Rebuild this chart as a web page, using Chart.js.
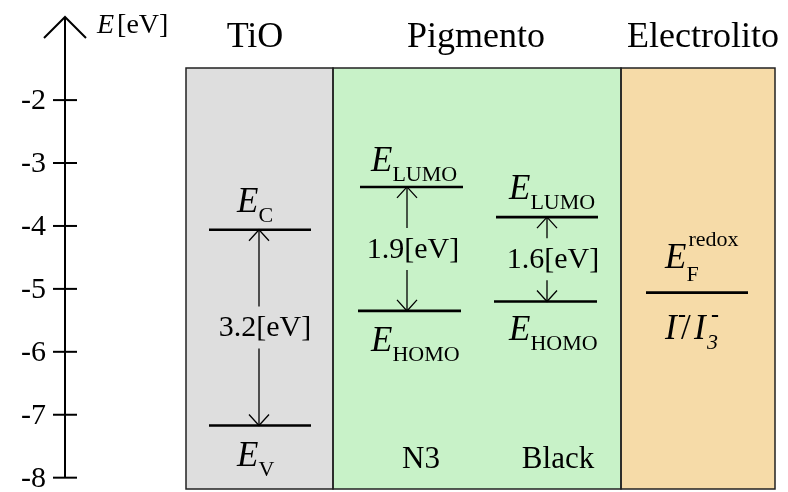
<!DOCTYPE html>
<html>
<head>
<meta charset="utf-8">
<script src="https://cdn.jsdelivr.net/npm/chart.js@4.4.1/dist/chart.umd.min.js"></script>
<style>
html, body { margin: 0; padding: 0; background: #fff; }
#wrap { width: 788px; height: 492px; }
</style>
</head>
<body>
<div id="wrap"><canvas id="myChart" width="788" height="492"></canvas></div>
<script>
"use strict";

// values
var columns     = ['TiO', 'Pigmento', 'Electrolito'];
var yTicks      = [-2, -3, -4, -5, -6, -7, -8];
var tioLevels   = [-4.06, -7.17];   // E_C, E_V
var n3Levels    = [-3.38, -5.35];   // LUMO, HOMO
var blackLevels = [-3.86, -5.20];   // LUMO, HOMO
var redoxLevels = [-5.06];
var gapLabels   = ['3.2[eV]', '1.9[eV]', '1.6[eV]'];
var dyeNames    = ['N3', 'Black'];

// layout (x in pixels from the left edge of the boxes)
var FONT      = '"Liberation Serif"';
var colEdges  = [0, 147, 435, 589];
var colFills  = ['#dedede', '#c8f2c8', '#f6dba8'];
var titleX    = [69, 290, 517];
var axisX     = 65;

function levelSet(x1, x2, y) {
    return {
        data: [{x: x1, y: y}, {x: x2, y: y}],
        borderColor: '#000',
        borderWidth: 2.6,
        pointRadius: 0,
        fill: false
    };
}

var datasets = [
    levelSet(23, 125, tioLevels[0]),
    levelSet(23, 125, tioLevels[1]),
    levelSet(174, 277, n3Levels[0]),
    levelSet(172, 275, n3Levels[1]),
    levelSet(310, 412, blackLevels[0]),
    levelSet(308, 411, blackLevels[1]),
    levelSet(460, 562, redoxLevels[0])
];

// E labels: x, offset from level, subscript
var eLabels = [
    {x: 51,  lvl: tioLevels[0],   dy: -18, sub: 'C'},
    {x: 51,  lvl: tioLevels[1],   dy: 41,  sub: 'V'},
    {x: 185, lvl: n3Levels[0],    dy: -16, sub: 'LUMO'},
    {x: 185, lvl: n3Levels[1],    dy: 40,  sub: 'HOMO'},
    {x: 323, lvl: blackLevels[0], dy: -18, sub: 'LUMO'},
    {x: 323, lvl: blackLevels[1], dy: 39,  sub: 'HOMO'},
    {x: 479, lvl: redoxLevels[0], dy: -25, sub: 'F', sup: 'redox'}
];

// gap arrows: x, top level, bottom level, label
var gaps = [
    {x: 73,  top: tioLevels[0],   bot: tioLevels[1],   text: gapLabels[0]},
    {x: 221, top: n3Levels[0],    bot: n3Levels[1],    text: gapLabels[1]},
    {x: 361, top: blackLevels[0], bot: blackLevels[1], text: gapLabels[2]}
];

function arrowHead(ctx, x, y, dir) {
    ctx.beginPath();
    ctx.moveTo(x - 10, y + dir * 11);
    ctx.lineTo(x, y);
    ctx.lineTo(x + 10, y + dir * 11);
    ctx.stroke();
}

var diagram = {
    id: 'diagram',
    beforeDatasetsDraw: function (chart) {
        var ctx = chart.ctx, xs = chart.scales.x, area = chart.chartArea;
        ctx.save();
        for (var i = 0; i < 3; i++) {
            var x1 = xs.getPixelForValue(colEdges[i]);
            var x2 = xs.getPixelForValue(colEdges[i + 1]);
            ctx.fillStyle = colFills[i];
            ctx.fillRect(x1, area.top, x2 - x1, area.bottom - area.top);
        }
        ctx.strokeStyle = '#222';
        ctx.lineWidth = 1.5;
        for (var j = 0; j < 3; j++) {
            var a = xs.getPixelForValue(colEdges[j]);
            var b = xs.getPixelForValue(colEdges[j + 1]);
            ctx.strokeRect(a, area.top, b - a, area.bottom - area.top);
        }
        ctx.restore();
    },
    afterDatasetsDraw: function (chart) {
        var ctx = chart.ctx, xs = chart.scales.x, ys = chart.scales.y;
        ctx.save();
        ctx.fillStyle = '#000';
        ctx.strokeStyle = '#000';

        // energy axis
        ctx.lineWidth = 2;
        ctx.beginPath();
        ctx.moveTo(axisX, ys.getPixelForValue(-8));
        ctx.lineTo(axisX, 17);
        ctx.stroke();
        ctx.beginPath();
        ctx.moveTo(axisX - 21, 38);
        ctx.lineTo(axisX, 17);
        ctx.lineTo(axisX + 21, 38);
        ctx.stroke();
        ctx.font = '30px ' + FONT;
        ctx.textAlign = 'right';
        ctx.textBaseline = 'middle';
        yTicks.forEach(function (t) {
            var y = ys.getPixelForValue(t);
            ctx.beginPath();
            ctx.moveTo(axisX - 12, y);
            ctx.lineTo(axisX + 12, y);
            ctx.stroke();
            ctx.fillText(String(t), 46, y + 1);
        });

        ctx.textAlign = 'left';
        ctx.textBaseline = 'alphabetic';
        ctx.font = 'italic 28px ' + FONT;
        ctx.fillText('E', 97, 33);
        var ew = ctx.measureText('E').width;
        ctx.font = '28px ' + FONT;
        ctx.fillText('[eV]', 97 + ew + 3, 33);

        // column titles
        ctx.textAlign = 'center';
        ctx.font = '36px ' + FONT;
        columns.forEach(function (c, i) {
            ctx.fillText(c, xs.getPixelForValue(titleX[i]), 47);
        });

        // dye names
        ctx.font = '31px ' + FONT;
        ctx.fillText(dyeNames[0], xs.getPixelForValue(235), 468);
        ctx.fillText(dyeNames[1], xs.getPixelForValue(372), 468);

        // gap arrows
        ctx.lineWidth = 1.3;
        gaps.forEach(function (g) {
            var x = xs.getPixelForValue(g.x);
            var yt = ys.getPixelForValue(g.top);
            var yb = ys.getPixelForValue(g.bot);
            var mid = (yt + yb) / 2;
            ctx.beginPath();
            ctx.moveTo(x, yt);
            ctx.lineTo(x, mid - 21);
            ctx.moveTo(x, mid + 21);
            ctx.lineTo(x, yb);
            ctx.stroke();
            arrowHead(ctx, x, yt, 1);
            arrowHead(ctx, x, yb, -1);
            ctx.font = '30px ' + FONT;
            ctx.textAlign = 'center';
            ctx.textBaseline = 'middle';
            ctx.fillText(g.text, x + 6, mid + 1);
        });

        // level labels
        ctx.textAlign = 'left';
        ctx.textBaseline = 'alphabetic';
        eLabels.forEach(function (l) {
            var x = xs.getPixelForValue(l.x);
            var y = ys.getPixelForValue(l.lvl) + l.dy;
            ctx.font = 'italic 35px ' + FONT;
            ctx.fillText('E', x, y);
            var w = ctx.measureText('E').width;
            ctx.font = '22px ' + FONT;
            ctx.fillText(l.sub, x + w, y + (l.sup ? 13 : 10));
            if (l.sup) {
                ctx.fillText(l.sup, x + w + 2, y - 22);
            }
        });

        // redox couple I-/I3-
        var rx = xs.getPixelForValue(479);
        var ry = ys.getPixelForValue(redoxLevels[0]) + 46;
        ctx.font = 'italic 35px ' + FONT;
        ctx.fillText('I', rx, ry);
        ctx.fillText('I', rx + 29, ry);
        ctx.font = '35px ' + FONT;
        ctx.fillText('/', rx + 16, ry);
        ctx.font = 'bold 24px ' + FONT;
        ctx.fillText('-', rx + 13, ry - 17);
        ctx.fillText('-', rx + 46, ry - 17);
        ctx.font = 'italic 22px ' + FONT;
        ctx.fillText('3', rx + 42, ry + 10);

        ctx.restore();
    }
};

new Chart(document.getElementById('myChart'), {
    type: 'line',
    data: { datasets: datasets },
    options: {
        responsive: false,
        animation: false,
        layout: { padding: { left: 186, right: 13, top: 68, bottom: 3 } },
        scales: {
            x: { type: 'linear', min: 0, max: 589, display: false },
            y: { type: 'linear', min: -8.18, max: -1.49, display: false }
        },
        plugins: {
            legend: { display: false },
            tooltip: { enabled: false }
        }
    },
    plugins: [diagram]
});
</script>
</body>
</html>
